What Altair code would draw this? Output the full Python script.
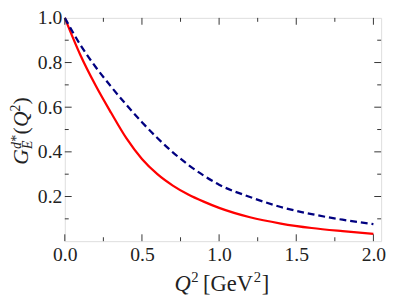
import altair as alt
import pandas as pd

# ---- data ----
q = [0.0, 0.1, 0.2, 0.3, 0.4, 0.5, 0.6, 0.7, 0.8, 0.9, 1.0, 1.2, 1.4, 1.6, 1.8, 2.0]
red_vals = [1.0, 0.835, 0.697, 0.575, 0.46, 0.368, 0.30, 0.249, 0.209, 0.177, 0.149,
            0.107, 0.079, 0.059, 0.045, 0.033]
blue_vals = [1.0, 0.88, 0.78, 0.692, 0.61, 0.533, 0.462, 0.398, 0.342, 0.294, 0.253,
             0.198, 0.153, 0.121, 0.096, 0.076]

x_major = [0.0, 0.5, 1.0, 1.5, 2.0]
x_minor = [0.25, 0.75, 1.25, 1.75]
y_major = [0.2, 0.4, 0.6, 0.8]
y_minor = [0.1, 0.3, 0.5, 0.7, 0.9]
y_labels = [0.2, 0.4, 0.6, 0.8, 1.0]

W, H = 323, 228
FONT = "Liberation Serif, DejaVu Serif, serif"
TXT = "#222"

xs = alt.Scale(domain=[0, 2.05], nice=False, zero=False)
ys = alt.Scale(domain=[0, 1.0], nice=False, zero=False)

df_red = pd.DataFrame({"q": q, "v": red_vals})
df_blue = pd.DataFrame({"q": q, "v": blue_vals})

xaxis = alt.Axis(values=x_major, format=".1f", ticks=False, domain=False, grid=False,
                 labelFont=FONT, labelFontSize=20, labelColor=TXT, labelPadding=4,
                 labelFlush=False, title=None)
yaxis = alt.Axis(values=y_labels, format=".1f", ticks=False, domain=False, grid=False,
                 labelFont=FONT, labelFontSize=20, labelColor=TXT, labelPadding=3,
                 title=None)

red = alt.Chart(df_red).mark_line(color="#ff0000", strokeWidth=2.3, interpolate="monotone").encode(
    x=alt.X("q:Q", scale=xs, axis=xaxis),
    y=alt.Y("v:Q", scale=ys, axis=yaxis),
)
blue = alt.Chart(df_blue).mark_line(color="#000080", strokeWidth=2.3, strokeDash=[7, 4],
                                    interpolate="monotone").encode(
    x=alt.X("q:Q", scale=xs),
    y=alt.Y("v:Q", scale=ys),
)

TC = "#333"
def xticks(vals, length):
    d = pd.DataFrame({"t": vals})
    bot = alt.Chart(d).mark_rule(color=TC, strokeWidth=1).encode(
        x=alt.X("t:Q", scale=xs), y=alt.value(H), y2=alt.value(H - length))
    top = alt.Chart(d).mark_rule(color=TC, strokeWidth=1).encode(
        x=alt.X("t:Q", scale=xs), y=alt.value(0), y2=alt.value(length))
    return [bot, top]

def yticks(vals, length):
    d = pd.DataFrame({"t": vals})
    left = alt.Chart(d).mark_rule(color=TC, strokeWidth=1).encode(
        y=alt.Y("t:Q", scale=ys), x=alt.value(0), x2=alt.value(length))
    right = alt.Chart(d).mark_rule(color=TC, strokeWidth=1).encode(
        y=alt.Y("t:Q", scale=ys), x=alt.value(W), x2=alt.value(W - length))
    return [left, right]

def label(text, x, y, size, style="normal", angle=0):
    d = pd.DataFrame({"s": [text]})
    kw = dict(font=FONT, fontSize=size, fontStyle=style, color=TXT, align="left",
              baseline="alphabetic")
    if angle:
        kw["angle"] = angle
    return alt.Chart(d).mark_text(**kw).encode(text="s:N", x=alt.value(x), y=alt.value(y))

XB = 279  # x-title baseline (plot coords)
YB = -38  # y-title baseline (plot coords)
titles = [
    # x title: Q^2 [GeV^2]
    label("Q", 112, XB, 23, "italic"),
    label("2", 129, XB - 9, 15),
    label("[GeV", 141, XB, 23),
    label("2", 193, XB - 9, 15),
    label("]", 201, XB, 23),
    # y title: G_E^{d*}(Q^2), rotated
    label("G", YB, 150, 22, "italic", 270),
    label("d*", YB - 7, 134, 14, "italic", 270),
    label("E", YB + 4, 134, 14, "italic", 270),
    label("(", YB, 119, 22, "normal", 270),
    label("Q", YB, 111.5, 22, "italic", 270),
    label("2", YB - 8, 95.5, 14, "normal", 270),
    label(")", YB, 88.5, 22, "normal", 270),
]

layers = [red, blue] + xticks(x_major, 7) + xticks(x_minor, 4) + yticks(y_major, 7) + yticks(y_minor, 4) + titles

chart = alt.layer(*layers).properties(
    width=W, height=H,
    autosize=alt.AutoSizeParams(type="none"),
    padding={"left": 58, "top": 7, "right": 6, "bottom": 58},
).configure_view(stroke="#222", strokeWidth=1).configure(background="white")

chart.save("out.html", embed_options={"renderer": "svg", "actions": False})
